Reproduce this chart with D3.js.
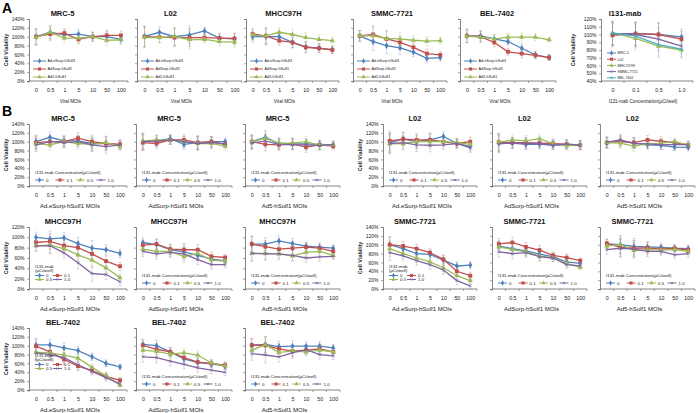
<!DOCTYPE html>
<html><head><meta charset="utf-8">
<script src="https://cdn.jsdelivr.net/npm/d3@7"></script>
<style>body{margin:0;background:#fff}svg{display:block}text{font-family:"Liberation Sans",Arial,sans-serif}</style>
</head><body><svg id="c" width="698" height="413"></svg>
<script>
// ---------- categories / tick labels ----------
const mois = ["0","0.5","1","5","10","50","100"];
const concs = ["0","0.1","0.5","1.0"];
const virusNames = ["Ad.eSurp-hSulf1","AdSurp-hSulf1","Ad5-hSulf1"];
const cellNames = ["MRC-5","L02","MHCC97H","SMMC-7721","BEL-7402"];
const concNames = ["0","0.1","0.5","1.0"];
const ticks0to140 = [0,20,40,60,80,100,120,140];
const ticks0to120 = [0,20,40,60,80,100,120];
const ticks40to120 = [40,50,60,70,80,90,100,110,120];

// ---------- Panel A: cell viability (%) ----------
const aMRC5   = [[100,110,104,106,100,100,94],[100,106,108,94,100,103,103],[98,110,97,97,100,92,93]];
const aL02    = [[101,110,100,104,113,97,95],[100,99,98,98,98,97,96],[98,98,101,93,94,89,88]];
const aMHCC   = [[100,100,100,87,77,74,71],[106,102,91,87,76,74,70],[104,102,110,105,98,94,91]];
const aSMMC   = [[102,89,80,75,65,51,53],[102,105,95,87,76,62,59],[102,102,96,95,92,90,91]];
const aBEL    = [[102,102,95,89,74,59,53],[102,100,87,66,62,58,53],[101,99,95,99,99,99,93]];
const aMab    = [[101,101,100,97],[99,101,100,94],[102,95,85,80],[101,100,94,85],[102,98,87,81]];
const aErrMRC5 = [18,15,10,10,10,12,10];
const aErrL02  = [23,12,20,20,8,10,12];
const aErrMHCC = [12,18,10,12,12,10,8];
const aErrSMMC = [12,20,18,15,10,10,8];
const aErrBEL  = [15,12,10,8,10,8,6];
const aErrMab  = [15,15,15,10];

// ---------- Panel B: viability (%) per I131-mab dose (0, 0.1, 0.5, 1.0) ----------
const bMRC5eSurp = [[100,110,102,102,96,96,93],[98,100,100,108,100,96,94],[95,93,100,96,94,98,90],[93,100,98,100,93,89,93]];
const bMRC5Surp  = [[100,102,107,94,98,100,100],[98,96,104,104,98,100,94],[102,104,104,100,96,96,90],[100,101,104,100,96,98,95]];
const bMRC5Ad5   = [[100,110,96,95,95,94,93],[100,94,93,95,88,93,90],[100,108,97,97,100,92,93],[97,102,94,93,93,91,94]];
const bL02eSurp  = [[98,106,100,104,112,96,89],[102,106,104,104,100,96,100],[95,96,100,100,100,98,94],[96,98,93,92,93,96,86]];
const bL02Surp   = [[97,97,94,94,93,93,93],[99,98,98,97,96,94,92],[99,104,102,107,95,91,92],[95,97,96,96,92,95,92]];
const bL02Ad5    = [[97,102,97,93,92,88,87],[98,100,98,104,101,98,93],[98,97,90,95,97,100,93],[99,104,96,95,93,94,93]];
const bMHCCeSurp = [[100,97,99,88,79,76,69],[90,92,84,80,68,54,44],[84,85,78,66,56,41,22],[83,84,70,51,30,28,14]];
const bMHCCSurp  = [[90,86,76,72,65,58,55],[85,87,77,76,76,63,61],[77,73,73,63,69,56,54],[73,68,71,68,57,47,47]];
const bMHCCAd5   = [[87,87,93,88,83,81,79],[87,82,77,79,81,79,73],[69,69,68,64,71,73,65],[69,68,68,65,60,62,63]];
const bSMMCeSurp = [[100,91,80,78,65,52,54],[100,97,91,82,67,40,30],[91,80,70,61,48,30,19],[82,75,64,55,43,19,7]];
const bSMMCSurp  = [[97,91,86,79,73,61,58],[102,105,95,88,76,71,64],[95,89,84,74,70,58,49],[84,80,82,73,70,55,52]];
const bSMMCAd5   = [[102,100,96,95,94,92,91],[103,94,92,93,90,92,88],[97,100,87,89,88,89,85],[89,92,90,85,85,77,80]];
const bBELeSurp  = [[102,102,95,89,75,60,52],[99,86,69,54,44,31,22],[85,84,79,72,51,32,11],[84,80,73,57,42,28,14]];
const bBELSurp   = [[103,100,86,70,62,59,54],[101,92,86,73,63,60,56],[90,87,81,84,79,61,54],[75,73,65,58,50,45,40]];
const bBELAd5    = [[101,103,98,99,99,99,95],[101,101,93,88,90,93,86],[90,102,85,88,86,90,86],[82,79,75,84,91,80,77]];
const bErr = {
  MRC5: [[15,12,12,12,15,15,10],[18,12,10,12,15,12,8],[15,15,12,12,12,10,8]],
  L02:  [[22,15,15,15,10,10,10],[20,12,12,10,10,10,10],[12,12,12,10,10,8,8]],
  MHCC: [[10,15,10,12,15,10,8],[10,10,10,12,10,8,6],[15,12,10,10,8,8,6]],
  SMMC: [[18,10,10,10,10,10,8],[12,12,10,10,8,8,6],[10,20,18,12,10,8,8]],
  BEL:  [[15,12,12,10,8,8,6],[12,12,10,10,10,8,8],[15,18,12,12,10,10,8]]
};

// ---------- styling ----------
const colors = ["#4F81BD","#C0504D","#9BBB59","#8064A2","#4BACC6"];
const markers = [
  {t:d3.symbolDiamond, s:13, fill:true},
  {t:d3.symbolSquare, s:15, fill:true},
  {t:d3.symbolTriangle, s:12, fill:true},
  {t:d3.symbolTimes, s:6, fill:false},
  {t:d3.symbolAsterisk, s:7, fill:false}
];
const H = 62;
const svg = d3.select("#c");
const AX = "#666";

function drawMarker(g, i, cx, cy, scale) {
  const m = markers[i];
  const p = g.append("path").attr("d", d3.symbol().type(m.t).size(m.s*(scale||1))())
    .attr("transform",`translate(${cx},${cy})`);
  if (m.fill) p.attr("fill", colors[i]).attr("stroke","none");
  else p.attr("fill","none").attr("stroke", colors[i]).attr("stroke-width",0.7);
}

function panel(o) {
  const g = svg.append("g");
  const bottom = o.top + H;
  const x = d3.scalePoint().domain(o.cats).range([o.x0, o.x1]).padding(0.5);
  const y = d3.scaleLinear().domain([o.yTicks[0], o.yTicks[o.yTicks.length-1]]).range([bottom, o.top]);
  // y axis
  const ya = g.append("g").attr("transform",`translate(${o.x0},0)`)
    .call(d3.axisLeft(y).tickValues(o.yTicks).tickSize(2).tickPadding(2.5)
      .tickFormat(o.yLabels ? (d => d + "%") : ""));
  ya.select(".domain").attr("stroke", AX).attr("stroke-width",0.8);
  ya.selectAll(".tick line").attr("stroke", AX).attr("stroke-width",0.6);
  ya.selectAll(".tick text").attr("font-size",5).attr("fill","#222");
  // x axis
  const xa = g.append("g").attr("transform",`translate(0,${bottom})`)
    .call(d3.axisBottom(x).tickSize(0).tickPadding(7));
  xa.select(".domain").remove();
  xa.selectAll(".tick text").attr("font-size",5.3).attr("fill","#222");
  g.append("line").attr("x1",o.x0).attr("x2",o.x1).attr("y1",bottom).attr("y2",bottom)
    .attr("stroke",AX).attr("stroke-width",0.8);
  const step = x.step();
  d3.range(o.cats.length+1).forEach(k => {
    const xx = o.x0 + k*step;
    g.append("line").attr("x1",xx).attr("x2",xx).attr("y1",bottom).attr("y2",bottom+2)
      .attr("stroke",AX).attr("stroke-width",0.6);
  });
  // titles
  g.append("text").attr("x",(o.x0+o.x1)/2 + (o.titleDx||-15)).attr("y",o.top-3)
    .attr("text-anchor","middle").attr("font-size",7.5).attr("font-weight","bold").attr("fill","#111").text(o.title);
  g.append("text").attr("x",(o.x0+o.x1)/2 + (o.xTitleDx||-8)).attr("y",bottom+22)
    .attr("text-anchor","middle").attr("font-size",o.xTitleSize||5.5).attr("fill","#222").text(o.xTitle);
  if (o.yTitle) {
    g.append("text").attr("transform",`translate(${o.yTitleX},${o.top+H/2}) rotate(-90)`)
      .attr("text-anchor","middle").attr("font-size",5.5).attr("font-weight","bold").attr("fill","#222").text("Cell Viability");
  }
  // error bars
  o.series.forEach((vals, si) => {
    const err = o.err;
    vals.forEach((v, k) => {
      const cx = x(o.cats[k]);
      const e = err[k];
      const c = colors[si];
      g.append("line").attr("x1",cx).attr("x2",cx).attr("y1",y(v-e)).attr("y2",y(v+e))
        .attr("stroke",c).attr("stroke-opacity",0.45).attr("stroke-width",0.6);
      [v-e, v+e].forEach(w => g.append("line").attr("x1",cx-1.5).attr("x2",cx+1.5).attr("y1",y(w)).attr("y2",y(w))
        .attr("stroke",c).attr("stroke-opacity",0.45).attr("stroke-width",0.6));
    });
  });
  // lines + markers
  const line = d3.line().x((d,k) => x(o.cats[k])).y(d => y(d));
  o.series.forEach((vals, si) => {
    g.append("path").attr("d", line(vals)).attr("fill","none").attr("stroke",colors[si]).attr("stroke-width",1.3);
    vals.forEach((v,k) => drawMarker(g, si, x(o.cats[k]), y(v)));
  });
  // legend
  const L = o.legend;
  if (!L) return;
  if (L.type === "virus" || L.type === "cell") {
    L.names.forEach((nm, i) => {
      const ly = o.top + L.y0 + i*L.dy;
      const lx = o.x0 + L.dx;
      g.append("line").attr("x1",lx).attr("x2",lx+L.len).attr("y1",ly).attr("y2",ly)
        .attr("stroke",colors[i]).attr("stroke-width",1);
      drawMarker(g, i, lx+L.len/2, ly, 0.65);
      g.append("text").attr("x",lx+L.len+1.5).attr("y",ly+1.3).attr("font-size",L.fs).attr("fill","#222").text(nm);
    });
  } else if (L.type === "row") {
    g.append("text").attr("x",o.x0+6).attr("y",bottom-12).attr("font-size",4.4).attr("fill","#222")
      .text("I131-mab Concentration(\u03bcCi/well)");
    concNames.forEach((nm,i) => {
      const lx = o.x0 + 6 + i*20.5, ly = bottom-6;
      g.append("line").attr("x1",lx).attr("x2",lx+9).attr("y1",ly).attr("y2",ly).attr("stroke",colors[i]).attr("stroke-width",1);
      drawMarker(g, i, lx+4.5, ly, 0.65);
      g.append("text").attr("x",lx+11).attr("y",ly+1.5).attr("font-size",4.4).attr("fill","#222").text(nm);
    });
  } else if (L.type === "compact") {
    const b = bottom + L.off;
    g.append("text").attr("x",o.x0+6).attr("y",b).attr("font-size",4.4).attr("fill","#222").text("I131-mab");
    g.append("text").attr("x",o.x0+6).attr("y",b+4.2).attr("font-size",4.4).attr("fill","#222").text("(\u03bcCi/well)");
    concNames.forEach((nm,i) => {
      const lx = o.x0 + 6 + (i%2)*18, ly = b + 7.5 + Math.floor(i/2)*4;
      g.append("line").attr("x1",lx).attr("x2",lx+9).attr("y1",ly).attr("y2",ly).attr("stroke",colors[i]).attr("stroke-width",1);
      drawMarker(g, i, lx+4.5, ly, 0.65);
      g.append("text").attr("x",lx+11).attr("y",ly+1.5).attr("font-size",4.4).attr("fill","#222").text(nm);
    });
  }
}

// panel letters
svg.append("text").attr("x",2).attr("y",13).attr("font-size",14).attr("font-weight","bold").text("A");
svg.append("text").attr("x",2).attr("y",116).attr("font-size",14).attr("font-weight","bold").text("B");

// ---------- Row A ----------
const aLeg = {type:"virus", names:virusNames, y0:42, dy:8, dx:4, len:13, fs:3.8};
const aPanels = [
  {title:cellNames[0], series:aMRC5, err:aErrMRC5, x0:29, x1:128, yLabels:true, yTitle:true, yTitleX:8, titleDx:-16},
  {title:cellNames[1], series:aL02, err:aErrL02, x0:137, x1:242, titleDx:-19},
  {title:cellNames[2], series:aMHCC, err:aErrMHCC, x0:246, x1:339, titleDx:-9},
  {title:cellNames[3], series:aSMMC, err:aErrSMMC, x0:353, x1:447, titleDx:-8},
  {title:cellNames[4], series:aBEL, err:aErrBEL, x0:460, x1:556, titleDx:-11}
];
aPanels.forEach(p => panel(Object.assign({top:19, cats:mois, yTicks:ticks0to140, xTitle:"Viral MOIs", xTitleSize:4.6, legend:aLeg}, p)));
panel({top:19, cats:concs, yTicks:ticks40to120, series:aMab, err:aErrMab, x0:601, x1:693, yLabels:true, yTitle:true, yTitleX:575,
  title:"I131-mab", titleDx:-22, xTitle:"I131-mab Concentration(\u03bcCi/well)", xTitleSize:4.6, xTitleDx:-4,
  legend:{type:"cell", names:cellNames, y0:34, dy:6.2, dx:6, len:9, fs:3.6}});

// ---------- Row B ----------
const bCols = [[29,127],[136,232],[245,340],[383,477],[492,587],[600,695]];
const xTitles = virusNames.map(v => v + " MOIs");
const bRows = [
  {top:124, cells:[["MRC5","MRC-5",[bMRC5eSurp,bMRC5Surp,bMRC5Ad5],ticks0to140,["row","row","row"]],
                   ["L02","L02",[bL02eSurp,bL02Surp,bL02Ad5],ticks0to140,["row","row","row"]]]},
  {top:227, cells:[["MHCC","MHCC97H",[bMHCCeSurp,bMHCCSurp,bMHCCAd5],ticks0to120,["compact","row","row"],-21],
                   ["SMMC","SMMC-7721",[bSMMCeSurp,bSMMCSurp,bSMMCAd5],ticks0to140,["compact","row","row"],-21]]},
  {top:328, cells:[["BEL","BEL-7402",[bBELeSurp,bBELSurp,bBELAd5],ticks0to140,["compact","row","row"],-33]]}
];
bRows.forEach(r => {
  r.cells.forEach((cell, ci) => {
    const [key, name, sets, yt, legTypes, off] = cell;
    sets.forEach((s, vi) => {
      const col = bCols[ci*3 + vi];
      panel({top:r.top, cats:mois, yTicks:yt, series:s, err:bErr[key][vi], x0:col[0], x1:col[1],
        yLabels: vi===0, yTitle: vi===0, yTitleX: col[0]-21, title:name, xTitle:xTitles[vi], xTitleSize:6,
        legend:{type:legTypes[vi], off:off}});
    });
  });
});
</script></body></html>
